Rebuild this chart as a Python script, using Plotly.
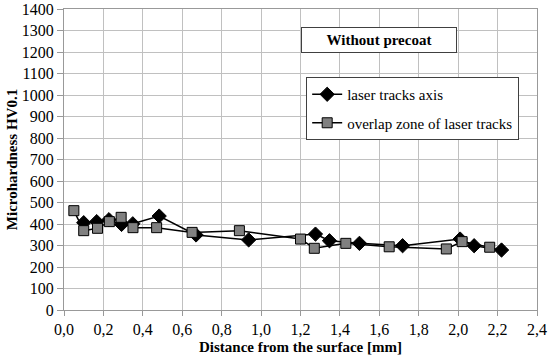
import plotly.graph_objects as go

axis_x = [0.10, 0.166, 0.228, 0.292, 0.349, 0.483, 0.67, 0.937, 1.276, 1.347, 1.499, 1.718, 2.01, 2.081, 2.22]
axis_y = [406, 411, 420, 398, 401, 437, 349, 326, 353, 322, 310, 299, 330, 299, 279]

overlap_x = [0.05, 0.10, 0.17, 0.23, 0.29, 0.35, 0.47, 0.65, 0.89, 1.20, 1.27, 1.43, 1.65, 1.94, 2.02, 2.16]
overlap_y = [462, 369, 380, 411, 431, 383, 383, 361, 369, 330, 287, 310, 294, 284, 318, 292]

x_ticks = [0.0, 0.2, 0.4, 0.6, 0.8, 1.0, 1.2, 1.4, 1.6, 1.8, 2.0, 2.2, 2.4]
x_ticktext = ["0,0", "0,2", "0,4", "0,6", "0,8", "1,0", "1,2", "1,4", "1,6", "1,8", "2,0", "2,2", "2,4"]
y_ticks = list(range(0, 1401, 100))

FF = "Liberation Serif"

fig = go.Figure()
fig.add_trace(go.Scatter(
    x=axis_x, y=axis_y, mode="lines+markers", name="laser tracks axis", legendgroup="a",
    line=dict(color="black", width=1.5),
    marker=dict(symbol="diamond", size=11, color="black", line=dict(color="black", width=1)),
))
fig.add_trace(go.Scatter(
    x=overlap_x, y=overlap_y, mode="lines+markers", name="overlap zone of laser tracks", legendgroup="b",
    line=dict(color="black", width=1.5),
    marker=dict(symbol="square", size=10, color="#808080", line=dict(color="black", width=1)),
))

fig.update_layout(
    width=550, height=360,
    margin=dict(l=64, r=13, t=9, b=50),
    paper_bgcolor="white", plot_bgcolor="white",
    font=dict(family=FF, size=15, color="black"),
    showlegend=True,
    legend=dict(
        x=0.512, y=0.774, xanchor="left", yanchor="top",
        bgcolor="white", bordercolor="#404040", borderwidth=1,
        font=dict(family=FF, size=15, color="black"),
        tracegroupgap=6, itemwidth=30,
    ),
    annotations=[dict(
        text="<b>Without precoat</b>", xref="paper", yref="paper",
        x=0.667, y=0.897, xanchor="center", yanchor="middle", showarrow=False,
        font=dict(family=FF, size=15, color="black"),
        bordercolor="#404040", borderwidth=1, bgcolor="white",
        width=150, height=20, borderpad=2,
    )],
)
fig.update_xaxes(
    range=[0, 2.4], tickvals=x_ticks, ticktext=x_ticktext,
    showgrid=True, gridcolor="#c0c0c0", gridwidth=1,
    showline=True, linecolor="#999999", mirror=True,
    ticks="outside", ticklen=5, tickcolor="#999999", automargin=False, ticklabeloverflow="allow",
    zeroline=False,
    tickfont=dict(family=FF, size=16),
    title=dict(text="<b>Distance from the surface [mm]</b>", font=dict(family=FF, size=15), standoff=4),
)
fig.update_yaxes(
    range=[0, 1400], tickvals=y_ticks,
    showgrid=True, gridcolor="#c0c0c0", gridwidth=1,
    showline=True, linecolor="#999999", mirror=True,
    ticks="outside", ticklen=6, tickcolor="#999999", automargin=False, ticklabeloverflow="allow",
    zeroline=False,
    tickfont=dict(family=FF, size=16),
    title=dict(text="<b>Microhardness HV0.1</b>", font=dict(family=FF, size=15), standoff=0),
)

fig.write_html("out.html", config={"displayModeBar": False},
               post_script="document.body.style.margin='0px';")
